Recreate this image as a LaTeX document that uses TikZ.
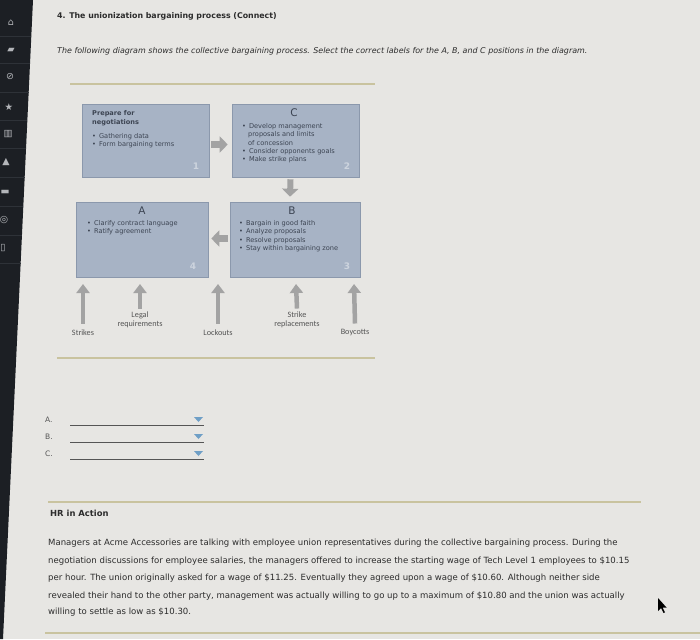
\documentclass[tikz,border=0pt]{standalone}
\usepackage{fontspec}
\setmainfont{DejaVu Sans}
\newfontfamily\labelfont{Carlito}
\usetikzlibrary{arrows.meta}
\definecolor{bgc}{HTML}{E7E6E3}
\definecolor{sidebar}{HTML}{1C1F24}
\definecolor{sidesep}{HTML}{2E3238}
\definecolor{iconc}{HTML}{B4B6BA}
\definecolor{boxfill}{HTML}{A7B3C5}
\definecolor{boxline}{HTML}{8B98AC}
\definecolor{boxink}{HTML}{3C4452}
\definecolor{numc}{HTML}{CDD4DE}
\definecolor{arrowgray}{HTML}{A3A3A3}
\definecolor{gold}{HTML}{C9C39F}
\definecolor{ink}{HTML}{2C2C2C}
\definecolor{softink}{HTML}{555555}
\definecolor{dropblue}{HTML}{6F9FC6}
\begin{document}
\begin{tikzpicture}[x=1pt,y=-1pt,
  box/.style={draw=boxline,fill=boxfill,line width=0.6pt,inner sep=0pt},
  btxt/.style={anchor=west,inner sep=0pt,text=boxink,font=\fontsize{6.6}{7}\selectfont},
  bhead/.style={inner sep=0pt,text=boxink,font=\fontsize{10.5}{11}\selectfont},
  bnum/.style={inner sep=0pt,text=numc,font=\bfseries\fontsize{9}{10}\selectfont},
  flowarrow/.style={draw=arrowgray,line width=7pt,-{Triangle[width=16pt,length=8pt]}},
  uparrow/.style={draw=arrowgray,line width=4.5pt,-{Triangle[width=13pt,length=9pt]}},
  lab/.style={inner sep=0pt,text=softink,align=center,font=\labelfont\fontsize{8.2}{9.5}\selectfont},
  para/.style={anchor=west,inner sep=0pt,text=ink,font=\fontsize{8.55}{10}\selectfont},
  goldline/.style={draw=gold,line width=2pt},
  icon/.style={inner sep=0pt,text=iconc,font=\fontsize{9.5}{9.5}\selectfont},
  ddline/.style={draw=softink,line width=0.8pt},
  ddtri/.style={fill=dropblue}
]
\useasboundingbox (0,0) rectangle (700,639);
\fill[bgc] (0,0) rectangle (700,639);
% sidebar
\fill[sidebar] (0,0) -- (33,0) -- (3,639) -- (0,639) -- cycle;
\foreach \yy in {36,63,92,120,148,177,206,235,263}
  \draw[sidesep,line width=0.6pt] (0,\yy) -- ({33-30*\yy/639},\yy);
\node[icon] (i1) at (11,23) {⌂};
\node[icon] (i2) at (11,50) {▰};
\node[icon] (i3) at (10,77) {⊘};
\node[icon] (i4) at (9,107) {★};
\node[icon] (i5) at (8,134) {▥};
\node[icon] (i6) at (6,162) {▲};
\node[icon] (i7) at (5,192) {▬};
\node[icon] (i8) at (4,220) {◎};
\node[icon] (i9) at (3,248) {▯};

% header texts
\node[anchor=west,inner sep=0pt,text=ink,font=\bfseries\fontsize{7.85}{9}\selectfont] (title) at (57,16)
  {4. The unionization bargaining process (Connect)};
\node[anchor=west,inner sep=0pt,text=ink,font=\itshape\fontsize{7.95}{9}\selectfont] (intro) at (57,51)
  {The following diagram shows the collective bargaining process. Select the correct labels for the A, B, and C positions in the diagram.};
\draw[goldline] (70,84) -- (375,84);

% boxes
\node[box,minimum width=127pt,minimum height=73pt] (P) at (145.5,140.5) {};
\node[box,minimum width=127pt,minimum height=73pt] (C) at (295.5,140.5) {};
\node[box,minimum width=132pt,minimum height=75pt] (A) at (142,239.5) {};
\node[box,minimum width=130pt,minimum height=75pt] (B) at (295,239.5) {};

% box P
\node[btxt,font=\bfseries\fontsize{6.6}{7}\selectfont] (p1) at (92,114) {Prepare for};
\node[btxt,font=\bfseries\fontsize{6.6}{7}\selectfont] (p2) at (92,123) {negotiations};
\node[btxt] (p3) at (92,137) {•\hspace{3pt}Gathering data};
\node[btxt] (p4) at (92,145) {•\hspace{3pt}Form bargaining terms};
\node[bnum] (n1) at (196,166) {1};
% box C
\node[bhead] (ch) at (294,113) {C};
\node[btxt] (c1) at (242,127) {•\hspace{3pt}Develop management};
\node[btxt] (c2) at (248,135) {proposals and limits};
\node[btxt] (c3) at (248,143) {of concession};
\node[btxt] (c4) at (242,152) {•\hspace{3pt}Consider opponents goals};
\node[btxt] (c5) at (242,160) {•\hspace{3pt}Make strike plans};
\node[bnum] (n2) at (347,166) {2};
% box A
\node[bhead] (ah) at (142,211) {A};
\node[btxt] (a1) at (87,224) {•\hspace{3pt}Clarify contract language};
\node[btxt] (a2) at (87,232) {•\hspace{3pt}Ratify agreement};
\node[bnum] (n4) at (193,266) {4};
% box B
\node[bhead] (bh) at (292,211) {B};
\node[btxt] (b1) at (239,224) {•\hspace{3pt}Bargain in good faith};
\node[btxt] (b2) at (239,232) {•\hspace{3pt}Analyze proposals};
\node[btxt] (b3) at (239,241) {•\hspace{3pt}Resolve proposals};
\node[btxt] (b4) at (239,249) {•\hspace{3pt}Stay within bargaining zone};
\node[bnum] (n3) at (347,266) {3};

% flow arrows
\draw[flowarrow] ([xshift=2pt,yshift=-4pt]P.east) -- ([xshift=-4pt,yshift=-4pt]C.west);
\draw[draw=arrowgray,line width=6pt,-{Triangle[width=16pt,length=8pt]}] ([xshift=-5pt,yshift=-2pt]C.south) -- ([xshift=-5pt,yshift=5pt]B.north);
\draw[flowarrow] ([xshift=-2pt,yshift=1pt]B.west) -- ([xshift=3pt,yshift=1pt]A.east);

% bottom labels and up arrows
\node[lab] (strikes) at (83,333) {Strikes};
\node[lab] (legal) at (140,320) {Legal\\requirements};
\node[lab] (lockouts) at (218,333) {Lockouts};
\node[lab] (repl) at (297,320) {Strike\\replacements};
\node[lab] (boycotts) at (355,333) {Boycotts};
\coordinate (t1) at (83,284);
\coordinate (t2) at (140,284);
\coordinate (t3) at (218,284);
\coordinate (t4) at (296,284);
\coordinate (t5) at (354,284);
\draw[uparrow] ([yshift=6pt]strikes.north) -- (t1);
\draw[uparrow] ([yshift=3pt]legal.north) -- (t2);
\draw[uparrow] ([yshift=6pt]lockouts.north) -- (t3);
\draw[uparrow] ([yshift=3pt]repl.north) -- (t4);
\draw[uparrow] ([yshift=6pt]boycotts.north) -- (t5);
\draw[goldline] (57,358) -- (375,358);

% dropdowns
\foreach \nm/\yy in {A/420,B/437,C/454}{
  \node[anchor=west,inner sep=0pt,text=softink,font=\fontsize{7.5}{8}\selectfont] (dd\nm) at (45,\yy) {\nm.};
  \draw[ddline] (70,\yy+5) -- (204,\yy+5);
  \fill[ddtri] (194,\yy-3) -- (203,\yy-3) -- (198.5,\yy+2) -- cycle;
}

% HR in Action
\draw[goldline] (48,502) -- (641,502);
\node[anchor=west,inner sep=0pt,text=ink,font=\bfseries\fontsize{8.4}{9}\selectfont] (hr) at (50,513) {HR in Action};
\node[para] (l1) at (48,543) {Managers at Acme Accessories are talking with employee union representatives during the collective bargaining process. During the};
\node[para] (l2) at (48,561) {negotiation discussions for employee salaries, the managers offered to increase the starting wage of Tech Level 1 employees to \$10.15};
\node[para] (l3) at (48,578) {per hour. The union originally asked for a wage of \$11.25. Eventually they agreed upon a wage of \$10.60. Although neither side};
\node[para] (l4) at (48,596) {revealed their hand to the other party, management was actually willing to go up to a maximum of \$10.80 and the union was actually};
\node[para] (l5) at (48,612) {willing to settle as low as \$10.30.};
\draw[goldline] (45,633) -- (700,633);

% mouse cursor
\fill[black] (658,598) -- (658,611) -- (661,608) -- (663.5,613) -- (665,612.3) -- (662.5,607.5) -- (666.5,607.5) -- cycle;
\end{tikzpicture}
\end{document}
